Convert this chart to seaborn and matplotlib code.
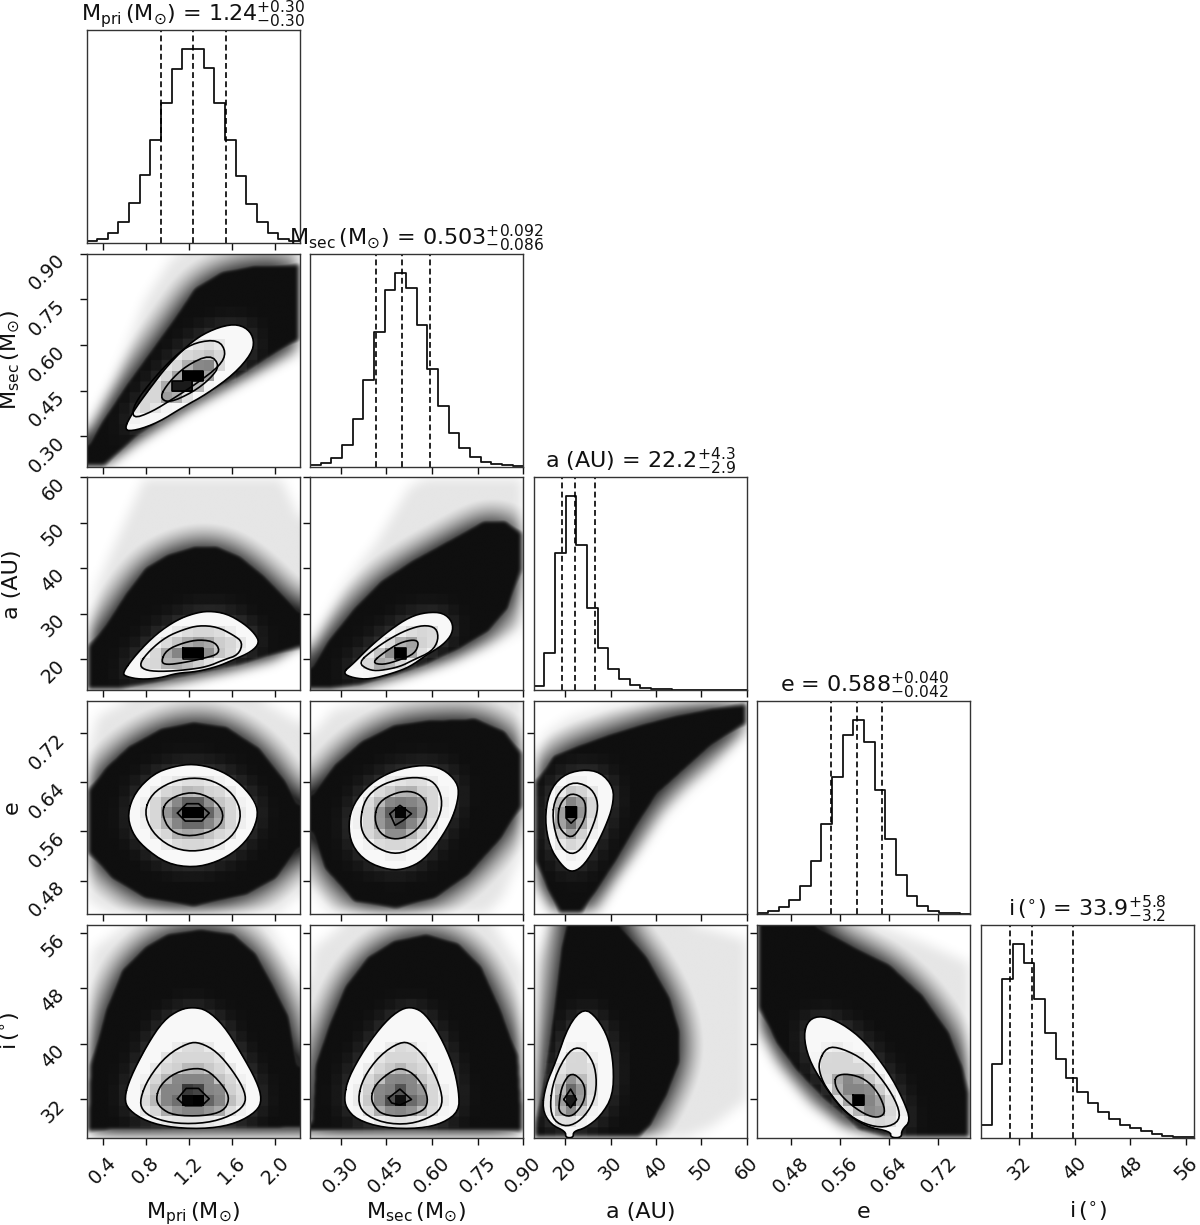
import numpy as np
import seaborn as sns
import matplotlib
matplotlib.use("Agg")
import matplotlib.pyplot as plt
from matplotlib.path import Path
from matplotlib.patches import Polygon
from matplotlib.transforms import ScaledTranslation

# histogram heights (20 bins per parameter, arbitrary counts)
mpri_hist = [6, 13, 30, 63, 119, 202, 307, 420, 520, 580, 580, 522, 420, 307, 200, 117, 63, 30, 13, 5]
msec_hist = [4, 10, 27, 66, 142, 260, 404, 528, 580, 535, 423, 293, 180, 102, 55, 28, 14, 8, 4, 2]
a_hist = [12, 112, 411, 579, 435, 247, 126, 64, 34, 17, 8, 4, 3, 2, 1, 1, 1, 0.5, 0.5, 0.5]
e_hist = [2, 8, 20, 41, 83, 155, 263, 399, 522, 567, 502, 363, 219, 113, 52, 23, 10, 4, 2, 1]
i_hist = [38, 220, 475, 581, 524, 416, 314, 237, 178, 137, 103, 78, 55, 39, 28, 19, 11, 6, 3, 1]

# axis ranges and ticks
mpri_lim = (0.25, 2.225)
msec_lim = (0.2, 0.9)
a_lim = (13.1, 60.0)
e_lim = (0.4257, 0.772)
i_lim = (26.5, 57.2)
mpri_ticks = [0.4, 0.8, 1.2, 1.6, 2.0]
msec_ticks = [0.30, 0.45, 0.60, 0.75, 0.90]
a_ticks = [20, 30, 40, 50, 60]
e_ticks = [0.48, 0.56, 0.64, 0.72]
i_ticks = [32, 40, 48, 56]
mpri_fmt, msec_fmt, a_fmt, e_fmt, i_fmt = "%.1f", "%.2f", "%d", "%.2f", "%d"

# 16 / 50 / 84 percentiles
mpri_q = [0.94, 1.24, 1.54]
msec_q = [0.417, 0.503, 0.595]
a_q = [19.3, 22.2, 26.5]
e_q = [0.546, 0.588, 0.628]
i_q = [30.7, 33.9, 39.7]

labels = [r"$\mathregular{M_{pri}\,(M_{\odot})}$", r"$\mathregular{M_{sec}\,(M_{\odot})}$", "a (AU)", "e",
          r"$\mathregular{i\,(^{\circ})}$"]
titles = [r"$\mathregular{M_{pri}\,(M_{\odot})}$ = $1.24_{-0.30}^{+0.30}$",
          r"$\mathregular{M_{sec}\,(M_{\odot})}$ = $0.503_{-0.086}^{+0.092}$",
          r"a (AU) = $22.2_{-2.9}^{+4.3}$",
          r"e = $0.588_{-0.042}^{+0.040}$",
          r"$\mathregular{i\,(^{\circ})}$ = $33.9_{-3.2}^{+5.8}$"]

# Msec vs Mpri: sparse limit, dense limit, then the contours from outer to inner
msec_mpri_halo = [(.247, .319), (.502, .494), (.79, .746), (1.045, .889), (1.141, .9), (2.224, .9), (2.224, .571), (1.684, .472), (1.205, .379), (.726, .275), (.437, .2), (.247, .2)]
msec_mpri_edge = [(.247, .275), (.374, .352), (.598, .472), (.822, .582), (1.045, .691), (1.237, .79), (1.493, .845), (1.812, .867), (2.224, .867), (2.224, .615), (1.684, .494), (1.205, .406), (.726, .297), (.406, .2), (.247, .2)]
msec_mpri_c1 = [(.592, .319), (.678, .379), (.822, .45), (1.013, .538), (1.237, .615), (1.429, .653), (1.62, .67), (1.749, .653), (1.806, .615), (1.78, .571), (1.62, .505), (1.365, .439), (1.141, .395), (.918, .346), (.71, .319)]
msec_mpri_c2 = [(.674, .357), (.69, .406), (.881, .494), (1.105, .576), (1.265, .609), (1.473, .617), (1.546, .576), (1.489, .532), (1.265, .472), (1.073, .428), (.85, .379)]
msec_mpri_c3 = [(.927, .428), (1.013, .478), (1.173, .532), (1.397, .569), (1.486, .532), (1.397, .489), (1.237, .445), (1.013, .409)]
msec_mpri_c4 = [(1.141, .516), (1.333, .516), (1.333, .483), (1.23, .483), (1.23, .45), (1.039, .45), (1.039, .483), (1.141, .483)]

# a vs Mpri
a_mpri_halo = [(.25, 26.4), (.34, 35.9), (.50, 44.6), (.68, 54.1), (.78, 59.6), (2.05, 59.6), (2.23, 50.5), (2.23, 23.1), (1.99, 19.2), (1.61, 16.9), (1.18, 14.7), (.78, 13.1), (.25, 13.1)]
a_mpri_edge = [(.25, 22.7), (.41, 27.8), (.59, 34.4), (.78, 40.2), (.99, 43.2), (1.24, 45.0), (1.46, 45.0), (1.68, 42.8), (1.89, 38.8), (2.08, 34.4), (2.23, 30.7), (2.23, 22.3), (1.99, 20.5), (1.68, 18.3), (1.24, 16.1), (.87, 14.3), (.53, 13.1), (.25, 13.1)]
a_mpri_c1 = [(.58, 16.9), (.716, 21.2), (.90, 25.6), (1.087, 28.6), (1.24, 30.0), (1.38, 30.6), (1.55, 30.0), (1.71, 27.8), (1.81, 25.6), (1.855, 23.6), (1.78, 21.6), (1.61, 19.8), (1.46, 18.3), (1.27, 17.2), (1.09, 16.9), (.93, 15.8), (.75, 15.5), (.62, 16.1)]
a_mpri_c2 = [(.74, 19.0), (.84, 22.0), (.99, 24.9), (1.15, 26.5), (1.29, 27.4), (1.46, 27.1), (1.61, 25.3), (1.70, 23.7), (1.66, 20.9), (1.52, 19.8), (1.37, 18.3), (1.18, 17.6), (.93, 17.2), (.78, 17.6)]
a_mpri_c3 = [(.94, 19.4), (.99, 22.0), (1.15, 23.6), (1.30, 24.3), (1.45, 23.7), (1.49, 21.2), (1.33, 20.1), (1.15, 19.2), (.99, 18.7)]
a_mpri_c4 = [(1.14, 22.5), (1.33, 22.5), (1.33, 20.1), (1.14, 20.1)]

# a vs Msec
a_msec_halo = [(.199, 22.7), (.309, 35.9), (.418, 45.4), (.528, 57.8), (.583, 59.6), (.90, 59.6), (.90, 26.4), (.80, 22.7), (.67, 19.0), (.528, 16.1), (.364, 13.1), (.199, 13.1)]
a_msec_edge = [(.199, 18.3), (.254, 24.2), (.342, 31.5), (.429, 37.3), (.528, 41.7), (.637, 45.7), (.769, 50.5), (.845, 50.5), (.90, 47.6), (.90, 39.5), (.856, 30.7), (.791, 25.6), (.692, 21.6), (.583, 18.3), (.473, 15.8), (.364, 13.9), (.254, 13.1), (.199, 13.1)]
a_msec_c1 = [(.305, 16.9), (.342, 19.0), (.396, 22.7), (.462, 26.4), (.528, 29.3), (.583, 30.3), (.637, 30.2), (.668, 28.2), (.668, 25.6), (.637, 23.1), (.583, 20.9), (.528, 18.3), (.473, 16.9), (.396, 15.5), (.342, 15.8)]
a_msec_c2 = [(.358, 19.2), (.407, 22.0), (.462, 24.5), (.517, 26.4), (.572, 27.5), (.615, 26.9), (.622, 24.2), (.599, 21.6), (.539, 19.8), (.495, 18.3), (.429, 17.4), (.391, 17.6)]
a_msec_c3 = [(.402, 19.2), (.446, 21.6), (.495, 23.6), (.541, 24.3), (.558, 23.6), (.544, 21.2), (.495, 19.8), (.440, 18.7)]
a_msec_c4 = [(.478, 22.5), (.514, 22.5), (.514, 20.1), (.478, 20.1)]

# e vs Mpri
e_mpri_halo = [(.25, .6808), (.344, .7458), (.622, .772), (1.862, .772), (2.23, .735), (2.23, .4587), (2.016, .4262), (.468, .4262), (.25, .4479)]
e_mpri_edge = [(.251, .6266), (.405, .6646), (.622, .6998), (.932, .7296), (1.242, .7404), (1.552, .7323), (1.862, .6971), (2.11, .6429), (2.23, .605), (2.23, .5291), (2.016, .4804), (1.738, .4533), (1.242, .4343), (.778, .4479), (.468, .4804), (.251, .5237)]
e_mpri_c1 = [(.629, .5887), (.70, .6239), (.871, .6537), (1.056, .6656), (1.242, .670), (1.459, .6618), (1.645, .6429), (1.80, .6131), (1.846, .5887), (1.784, .5562), (1.645, .5291), (1.459, .5102), (1.242, .5010), (.994, .5075), (.778, .5345), (.669, .5589)]
e_mpri_c2 = [(.784, .5914), (.855, .6212), (1.025, .6402), (1.227, .6478), (1.428, .6429), (1.614, .6212), (1.691, .5887), (1.629, .5562), (1.459, .5345), (1.227, .5264), (1.025, .5345), (.855, .5589)]
e_mpri_c3 = [(.942, .5914), (1.01, .6131), (1.227, .6255), (1.428, .6131), (1.53, .5887), (1.474, .5643), (1.227, .5508), (1.025, .5589)]
e_mpri_c4 = [(1.093, .5898), (1.18, .605), (1.289, .605), (1.388, .5898), (1.319, .5768), (1.165, .5768)]

# e vs Msec
e_msec_halo = [(.199, .7133), (.276, .7566), (.418, .772), (.90, .772), (.90, .5291), (.834, .4533), (.78, .4262), (.265, .4262), (.199, .4695)]
e_msec_edge = [(.199, .6212), (.276, .67), (.364, .7079), (.473, .735), (.583, .7431), (.747, .7458), (.845, .7241), (.90, .6862), (.90, .5995), (.834, .5454), (.725, .4858), (.615, .4479), (.484, .4316), (.342, .4425), (.243, .4966), (.199, .5562)]
e_msec_c1 = [(.325, .5725), (.342, .605), (.396, .6375), (.473, .6591), (.572, .6689), (.637, .6618), (.683, .6402), (.689, .6185), (.670, .5833), (.626, .5454), (.572, .5129), (.517, .4993), (.462, .4966), (.385, .5102), (.336, .5372)]
e_msec_c2 = [(.364, .5779), (.38, .6131), (.429, .6348), (.495, .6456), (.561, .6483), (.61, .6402), (.635, .6131), (.626, .5833), (.583, .5508), (.528, .5291), (.473, .5226), (.413, .5345), (.374, .5535)]
e_msec_c3 = [(.41, .5806), (.424, .6077), (.484, .6239), (.539, .6255), (.577, .6131), (.586, .5914), (.561, .567), (.517, .5508), (.473, .5465), (.429, .5562)]
e_msec_c4 = [(.462, .5887), (.495, .6023), (.533, .5887), (.506, .5779), (.479, .5698)]

# e vs a
e_a_halo = [(13.1, .6841), (15.6, .7173), (20.8, .7423), (29.6, .7617), (40.6, .7716), (60, .7716), (60, .7201), (52.3, .6564), (47.9, .6287), (42.1, .5844), (36.9, .529), (31.8, .4791), (27.4, .4265), (16.4, .4265), (13.1, .4736)]
e_a_edge = [(13.1, .6398), (17.1, .6841), (22.3, .7007), (29.6, .7201), (36.9, .7367), (44.2, .7506), (52.3, .7617), (60, .7672), (60, .734), (52.3, .6952), (46.4, .6564), (40.6, .6176), (36.2, .5678), (31.8, .5124), (27.4, .4625), (23.7, .4265), (18.6, .4265), (15.7, .4625), (13.1, .5124)]
e_a_c1 = [(15.5, .5788), (16.4, .6232), (19.3, .6509), (23.7, .6608), (27.8, .6564), (30.7, .6315), (30.5, .601), (28.9, .5678), (26.3, .529), (23.7, .5013), (21.2, .493), (19.0, .5068), (16.6, .5345)]
e_a_c2 = [(17.1, .5816), (17.9, .6176), (21.2, .6409), (25.2, .6342), (27.2, .6121), (27.0, .5844), (24.1, .5345), (21.4, .5207), (18.6, .5373)]
e_a_c3 = [(18.4, .5899), (19.2, .6093), (21.4, .6232), (24.3, .6132), (24.6, .5899), (23.7, .5705), (21.4, .5467), (18.6, .565)]
e_a_c4 = [(20.2, .5999), (22.5, .5999), (22.5, .5816), (21.3, .5733), (20.2, .5816)]

# i vs Mpri
i_mpri_halo = [(.25, 48.9), (.313, 53.7), (.623, 57.2), (1.92, 57.2), (2.23, 49.9), (2.23, 26.5), (.25, 26.5)]
i_mpri_edge = [(.251, 27.9), (.267, 37.0), (.406, 45.1), (.561, 50.8), (.778, 54.2), (.994, 56.1), (1.304, 56.8), (1.614, 56.1), (1.83, 53.2), (1.985, 48.9), (2.14, 44.1), (2.227, 37.0), (2.227, 27.65), (.251, 27.4)]
i_mpri_c1 = [(.60, 32.2), (.654, 35.1), (.809, 39.8), (.963, 43.4), (1.118, 45.0), (1.242, 45.3), (1.366, 44.9), (1.521, 42.7), (1.676, 38.9), (1.83, 34.6), (1.877, 32.0), (1.83, 30.3), (1.645, 28.6), (1.397, 27.8), (1.056, 27.9), (.809, 28.8), (.638, 30.5)]
i_mpri_c2 = [(.747, 32.1), (.824, 35.1), (.994, 38.4), (1.196, 40.2), (1.304, 40.2), (1.459, 38.9), (1.614, 36.0), (1.722, 33.1), (1.722, 31.2), (1.583, 29.6), (1.366, 28.6), (1.087, 28.5), (.87, 29.3), (.762, 30.5)]
i_mpri_c3 = [(.892, 32.1), (.933, 34.1), (1.072, 35.9), (1.273, 36.6), (1.397, 36.0), (1.536, 33.6), (1.576, 32.0), (1.521, 30.3), (1.335, 29.6), (1.056, 29.7), (.933, 30.8)]
i_mpri_c4 = [(1.093, 32.1), (1.174, 33.6), (1.289, 33.6), (1.388, 32.1), (1.319, 31.1), (1.165, 31.1)]

# i vs Msec
i_msec_halo = [(.199, 48.9), (.21, 53.7), (.309, 57.2), (.802, 57.2), (.90, 50.4), (.90, 26.5), (.199, 26.5)]
i_msec_edge = [(.199, 27.9), (.21, 37.0), (.254, 42.7), (.309, 48.4), (.385, 52.7), (.473, 55.1), (.583, 56.1), (.692, 54.7), (.769, 51.3), (.834, 45.1), (.889, 38.4), (.90, 29.8), (.90, 27.4), (.199, 27.4)]
i_msec_c1 = [(.312, 32.4), (.325, 35.1), (.38, 39.4), (.446, 43.2), (.50, 45.1), (.539, 45.3), (.577, 44.4), (.626, 41.3), (.67, 37.0), (.689, 33.1), (.689, 30.3), (.637, 28.6), (.561, 27.8), (.44, 27.9), (.353, 29.1), (.318, 30.8)]
i_msec_c2 = [(.356, 32.0), (.374, 35.1), (.429, 38.4), (.495, 40.3), (.533, 40.1), (.583, 37.9), (.626, 34.1), (.637, 31.2), (.604, 29.6), (.528, 28.4), (.44, 28.6), (.374, 30.0)]
i_msec_c3 = [(.399, 32.2), (.413, 34.1), (.457, 35.8), (.495, 36.6), (.539, 35.8), (.577, 33.6), (.588, 31.7), (.572, 30.3), (.506, 29.5), (.44, 29.8), (.413, 30.8)]
i_msec_c4 = [(.457, 32.2), (.495, 33.5), (.533, 32.0), (.495, 31.2), (.468, 31.5)]

# i vs a
i_a_halo = [(13.1, 51.6), (14.9, 55.5), (15.7, 57.2), (47.9, 57.2), (60, 55.0), (60, 32.0), (52.3, 28.1), (46.4, 26.5), (13.1, 26.5)]
i_a_edge = [(13.1, 28.1), (14.9, 35.5), (16.8, 44.3), (18.6, 54.0), (19.7, 57.2), (32.5, 57.2), (38.4, 52.6), (43.5, 46.7), (45.7, 41.8), (45.7, 37.4), (42.8, 32.5), (39.1, 28.1), (36.2, 26.5), (13.1, 26.5)]
i_a_c1 = [(14.9, 30.6), (15.7, 34.0), (17.9, 37.4), (20.8, 42.8), (24.1, 45.2), (27.0, 43.8), (29.6, 40.8), (30.7, 36.9), (30.5, 32.5), (27.8, 29.6), (24.5, 27.9), (21.8, 27.4), (21.8, 26.5), (20.1, 26.5), (20.1, 27.4), (16.8, 28.4)]
i_a_c2 = [(16.6, 31.1), (17.5, 35.0), (20.8, 39.1), (23.7, 39.6), (26.3, 37.4), (27.0, 34.5), (26.3, 31.6), (23.7, 29.1), (20.4, 28.0), (17.5, 28.9)]
i_a_c3 = [(18.7, 31.8), (19.4, 34.2), (21.4, 36.0), (24.1, 34.5), (24.5, 32.5), (23.4, 30.8), (21.2, 29.4), (18.6, 30.1)]
i_a_c4 = [(19.7, 32.0), (21.2, 33.5), (22.5, 32.0), (21.2, 30.8)]

# i vs e
i_e_halo = [(.4259, 57.2), (.6168, 57.2), (.6978, 54.5), (.7714, 51.6), (.7714, 26.5), (.6384, 26.5), (.5627, 27.7), (.5086, 31.1), (.4546, 36.9), (.4259, 41.8)]
i_e_edge = [(.4259, 57.2), (.5249, 57.2), (.5897, 54.0), (.6438, 51.6), (.6978, 47.2), (.7411, 41.8), (.7627, 36.9), (.7714, 33.0), (.7714, 26.5), (.6384, 26.5), (.5897, 27.6), (.5303, 32.0), (.487, 36.0), (.4546, 39.9), (.4259, 45.2)]
i_e_c1 = [(.5005, 41.3), (.5086, 43.5), (.5303, 44.1), (.5627, 43.0), (.6005, 40.4), (.6384, 36.0), (.6627, 32.0), (.6751, 28.9), (.66, 27.6), (.66, 26.5), (.6422, 26.5), (.6422, 27.4), (.6005, 28.1), (.5627, 30.6), (.5303, 34.5), (.5086, 37.9)]
i_e_c2 = [(.5249, 37.4), (.5384, 39.6), (.5627, 39.4), (.6005, 37.7), (.6324, 34.5), (.6546, 31.1), (.6573, 28.9), (.633, 27.9), (.6005, 28.4), (.5681, 30.1), (.5384, 33.5), (.5276, 35.5)]
i_e_c3 = [(.5508, 34.5), (.5546, 35.5), (.5735, 35.7), (.6005, 35.0), (.6222, 33.0), (.6346, 30.3), (.6249, 29.4), (.6059, 29.6), (.5789, 31.1), (.5573, 33.0)]
i_e_c4 = [(.5816, 32.7), (.5995, 32.7), (.5995, 31.2), (.5816, 31.2)]

hists = [mpri_hist, msec_hist, a_hist, e_hist, i_hist]
lims = [mpri_lim, msec_lim, a_lim, e_lim, i_lim]
ticks = [mpri_ticks, msec_ticks, a_ticks, e_ticks, i_ticks]
fmts = [mpri_fmt, msec_fmt, a_fmt, e_fmt, i_fmt]
quants = [mpri_q, msec_q, a_q, e_q, i_q]
panels = {
    (1, 0): [msec_mpri_halo, msec_mpri_edge, msec_mpri_c1, msec_mpri_c2, msec_mpri_c3, msec_mpri_c4],
    (2, 0): [a_mpri_halo, a_mpri_edge, a_mpri_c1, a_mpri_c2, a_mpri_c3, a_mpri_c4],
    (2, 1): [a_msec_halo, a_msec_edge, a_msec_c1, a_msec_c2, a_msec_c3, a_msec_c4],
    (3, 0): [e_mpri_halo, e_mpri_edge, e_mpri_c1, e_mpri_c2, e_mpri_c3, e_mpri_c4],
    (3, 1): [e_msec_halo, e_msec_edge, e_msec_c1, e_msec_c2, e_msec_c3, e_msec_c4],
    (3, 2): [e_a_halo, e_a_edge, e_a_c1, e_a_c2, e_a_c3, e_a_c4],
    (4, 0): [i_mpri_halo, i_mpri_edge, i_mpri_c1, i_mpri_c2, i_mpri_c3, i_mpri_c4],
    (4, 1): [i_msec_halo, i_msec_edge, i_msec_c1, i_msec_c2, i_msec_c3, i_msec_c4],
    (4, 2): [i_a_halo, i_a_edge, i_a_c1, i_a_c2, i_a_c3, i_a_c4],
    (4, 3): [i_e_halo, i_e_edge, i_e_c1, i_e_c2, i_e_c3, i_e_c4],
}
level_grey = [0.97, 0.84, 0.52, 0.0]


def rounded(poly, passes=2):
    # cut the corners of a closed outline
    p = np.array(poly, dtype=float)
    for _ in range(passes):
        q = np.roll(p, -1, axis=0)
        p = np.column_stack([0.75 * p + 0.25 * q, 0.25 * p + 0.75 * q]).reshape(-1, 2)
    return p


def inside(poly, xx, yy):
    pts = np.column_stack([xx.ravel(), yy.ravel()])
    return Path(poly).contains_points(pts).reshape(xx.shape).astype(float)


def soften(img, size=9):
    k = np.hanning(size + 2)[1:-1]
    k = k / k.sum()
    pad = size
    out = np.pad(img, pad, mode="edge")
    out = np.apply_along_axis(lambda r: np.convolve(r, k, mode="same"), 0, out)
    out = np.apply_along_axis(lambda r: np.convolve(r, k, mode="same"), 1, out)
    return out[pad:-pad, pad:-pad]


def draw_pair(ax, xlim, ylim, outlines):
    halo, edge, c1, c2, c3, c4 = outlines
    c1r, c2r, c3r = rounded(c1), rounded(c2), rounded(c3)

    # the point cloud: black core fading out to the sparse limit
    gx = np.linspace(xlim[0], xlim[1], 300)
    gy = np.linspace(ylim[0], ylim[1], 300)
    xx, yy = np.meshgrid(gx, gy)
    edge_mask = inside(edge, xx, yy)
    core = soften(edge_mask, 17)
    spread = soften(edge_mask, 121)
    sparse = soften(inside(halo, xx, yy), 41)
    dark = np.maximum(0.94 * core, np.minimum(1.3 * spread, 0.85) * sparse)
    dark = np.maximum(dark, 0.1 * sparse)

    # the dense area shows its cells faintly, lighter close to the outer contour
    near = soften(inside(c1r, xx, yy), 71).reshape(20, 15, 20, 15).mean(axis=(1, 3))
    near = np.repeat(np.repeat(near, 15, axis=0), 15, axis=1)
    img = 1 - dark + core * 0.2 * near
    ax.imshow(img, extent=[*xlim, *ylim], origin="lower", aspect="auto",
              cmap="gray", vmin=0, vmax=1, interpolation="bilinear", zorder=1)

    # 20x20 density cells inside the outer contour
    ex = np.linspace(xlim[0], xlim[1], 21)
    ey = np.linspace(ylim[0], ylim[1], 21)
    fx = np.linspace(xlim[0], xlim[1], 20 * 5, endpoint=False) + (xlim[1] - xlim[0]) / 200
    fy = np.linspace(ylim[0], ylim[1], 20 * 5, endpoint=False) + (ylim[1] - ylim[0]) / 200
    xx, yy = np.meshgrid(fx, fy)
    grey = np.full(xx.shape, level_grey[0])
    grey[inside(c2r, xx, yy) > 0] = level_grey[1]
    grey[inside(c3r, xx, yy) > 0] = level_grey[2]
    grey[inside(c4, xx, yy) > 0] = level_grey[3]
    cells = grey.reshape(20, 5, 20, 5).mean(axis=(1, 3))
    mesh = ax.pcolormesh(ex, ey, cells, cmap="gray", vmin=0, vmax=1, zorder=2)
    mesh.set_clip_path(Polygon(c1r, closed=True, transform=ax.transData))

    for line in [c1r, c2r, c3r, np.array(c4, dtype=float)]:
        closed = np.vstack([line, line[0]])
        ax.plot(closed[:, 0], closed[:, 1], color="k", lw=1.2, zorder=3)


sns.set_style("ticks")
plt.rcParams["mathtext.fontset"] = "dejavusans"
plt.rcParams["font.family"] = ["DejaVu Sans"]
plt.rcParams["text.color"] = "#111111"
plt.rcParams["axes.labelcolor"] = "#111111"
plt.rcParams["axes.linewidth"] = 1.0
plt.rcParams["axes.edgecolor"] = "#333333"
plt.rcParams["xtick.color"] = "#111111"
plt.rcParams["ytick.color"] = "#111111"

fig, axes = plt.subplots(5, 5, figsize=(12, 12.25), dpi=100)
fig.subplots_adjust(left=0.0721, right=0.9951, top=0.9755, bottom=0.0713, wspace=0.05, hspace=0.05)

for r in range(5):
    for c in range(5):
        ax = axes[r, c]
        if c > r:
            ax.set_visible(False)
            continue
        if r == c:
            edges = np.linspace(lims[c][0], lims[c][1], 21)
            centres = 0.5 * (edges[:-1] + edges[1:])
            sns.histplot(x=centres, weights=hists[c], bins=20, binrange=lims[c], element="step", fill=False,
                         color="#111111", linewidth=1.3, ax=ax)
            for q in quants[c]:
                ax.axvline(q, color="k", ls="--", lw=1.2, dashes=(3.5, 2))
            ax.set_ylim(0, max(hists[c]) * 1.098)
            ax.set_yticks([])
            ax.set_ylabel("")
            ax.set_title(titles[c], fontsize=16, pad=4)
        else:
            draw_pair(ax, lims[c], lims[r], panels[(r, c)])
            ax.set_ylim(*lims[r])
            ax.set_yticks(ticks[r])
            if c == 0:
                ax.set_yticklabels([fmts[r] % t for t in ticks[r]], rotation=45, va="top")
                ax.set_ylabel(labels[r], fontsize=16)
                ax.yaxis.set_label_coords(-0.303, 0.5)
            else:
                ax.set_yticklabels([])
        ax.set_xlim(*lims[c])
        ax.set_xticks(ticks[c])
        if r == 4:
            ax.set_xticklabels([fmts[c] % t for t in ticks[c]], rotation=45, ha="center")
            ax.set_xlabel(labels[c], fontsize=16, va="baseline")
            ax.xaxis.set_label_coords(0.5, -0.377)
        else:
            ax.set_xticklabels([])
        ax.tick_params(axis="both", direction="out", length=5, width=1.0, labelsize=13.8)
        ax.tick_params(axis="x", pad=6)
        ax.tick_params(axis="y", pad=8)
        if r != c and c == 0:
            for lab in ax.get_yticklabels():
                lab.set_transform(lab.get_transform() + ScaledTranslation(0, 3 / 100, fig.dpi_scale_trans))

fig.savefig("out.png", dpi=100)
